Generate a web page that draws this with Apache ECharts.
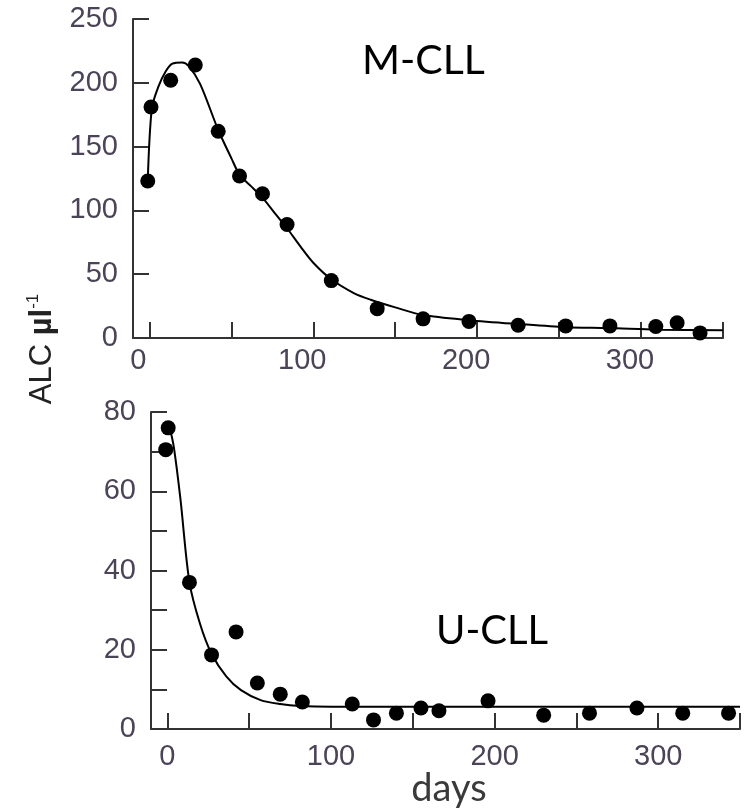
<!DOCTYPE html>
<html>
<head>
<meta charset="utf-8">
<title>ALC M-CLL / U-CLL</title>
<script src="https://cdn.jsdelivr.net/npm/echarts@6/dist/echarts.min.js"></script>
<style>
  html, body { margin: 0; padding: 0; background: #fff; }
  #chart { width: 748px; height: 811px; }
</style>
</head>
<body>
<div id="chart"></div>
<script>
// M-CLL measured ALC
const mcllDays = [-1, 1, 13, 28, 42, 55, 69, 84, 111, 139, 167, 195, 225, 254, 281, 309, 322, 336]
const mcllAlc = [123, 181, 202, 214, 162, 127, 113, 89, 45, 23, 15, 13, 10, 9.5, 9.5, 9, 12, 4]
// M-CLL fitted curve
const mcllFitDays = [-1, 1.5, 5.5, 10, 14, 20, 24, 31, 42, 50, 55, 62, 69, 77, 84, 92, 100, 111, 125, 135, 150, 167, 195, 225, 254, 280, 310, 350]
const mcllFitAlc = [123, 180, 197, 209, 215, 216, 213, 199, 163, 141, 128, 119, 110, 97, 86, 72, 59, 46, 35, 30, 24, 18, 14, 11, 8.5, 7.8, 6.5, 6]

// U-CLL measured ALC
const ucllDays = [0.5, -1, 13.5, 27, 42, 55, 69, 82.5, 113, 126, 140, 155, 166, 196, 230, 258, 287, 315, 343]
const ucllAlc = [76, 70.5, 37, 18.7, 24.5, 11.6, 8.8, 6.8, 6.3, 2.3, 4, 5.3, 4.6, 7.1, 3.5, 4, 5.3, 4, 4]
// U-CLL fitted curve
const ucllFitDays = [1.5, 4, 8, 13.5, 20, 27, 36, 45, 57, 69, 81, 100, 350]
const ucllFitAlc = [76, 71, 58, 37, 26.5, 19, 13.3, 9.8, 7.3, 6.3, 5.8, 5.6, 5.6]

// axis ticks / labels
const xTickValues = [0, 50, 100, 150, 200, 250, 300, 350]
const xLabelValues = [0, 100, 200, 300]
const mcllYLabels = [0, 50, 100, 150, 200, 250]
const ucllYTicks = [0, 10, 20, 30, 40, 50, 60, 70, 80]
const ucllYLabels = [0, 20, 40, 60, 80]

const zip = (xs, ys) => xs.map((x, i) => [x, ys[i]])

const axisColor = '#333333'
const labelColor = '#4b4356'
const tickFont = "'Liberation Sans Narrow', 'Liberation Sans', Arial, sans-serif"
const textFont = "Lato, 'Open Sans', sans-serif"

function makeXAxis(gridIndex, margin, padding) {
  return {
    type: 'value',
    gridIndex: gridIndex,
    min: -10,
    max: 350,
    axisLine: { show: true, onZero: false, lineStyle: { color: axisColor, width: 2 } },
    axisTick: {
      show: true,
      inside: true,
      length: 16,
      customValues: xTickValues,
      lineStyle: { color: axisColor, width: 2 }
    },
    axisLabel: {
      customValues: xLabelValues,
      color: labelColor,
      fontSize: 29,
      fontFamily: tickFont,
      margin: margin,
      padding: padding
    },
    splitLine: { show: false }
  }
}

function makeYAxis(gridIndex, max, ticks, labels) {
  return {
    type: 'value',
    gridIndex: gridIndex,
    min: 0,
    max: max,
    axisLine: { show: true, onZero: false, lineStyle: { color: axisColor, width: 2 } },
    axisTick: {
      show: true,
      inside: true,
      length: 16,
      customValues: ticks,
      lineStyle: { color: axisColor, width: 2 }
    },
    axisLabel: {
      customValues: labels,
      color: labelColor,
      fontSize: 29,
      fontFamily: tickFont,
      margin: 15
    },
    splitLine: { show: false }
  }
}

const chart = echarts.init(document.getElementById('chart'))
const options = {
  animation: false,
  backgroundColor: '#fff',
  grid: [
    { left: 133, top: 19, width: 590, height: 319 },
    { left: 151, top: 412, width: 589, height: 317 }
  ],
  xAxis: [
    makeXAxis(0, 8, [0, 22, 0, 0]),
    makeXAxis(1, 13, 0)
  ],
  yAxis: [
    makeYAxis(0, 250, mcllYLabels, mcllYLabels),
    makeYAxis(1, 80, ucllYTicks, ucllYLabels)
  ],
  series: [
    {
      name: 'M-CLL fit',
      type: 'line',
      xAxisIndex: 0,
      yAxisIndex: 0,
      data: zip(mcllFitDays, mcllFitAlc),
      smooth: 0.3,
      showSymbol: false,
      lineStyle: { color: '#000', width: 2 }
    },
    {
      name: 'M-CLL',
      type: 'scatter',
      xAxisIndex: 0,
      yAxisIndex: 0,
      data: zip(mcllDays, mcllAlc),
      symbol: 'circle',
      symbolSize: 15,
      itemStyle: { color: '#000', opacity: 1 }
    },
    {
      name: 'U-CLL fit',
      type: 'line',
      xAxisIndex: 1,
      yAxisIndex: 1,
      data: zip(ucllFitDays, ucllFitAlc),
      smooth: 0.3,
      showSymbol: false,
      lineStyle: { color: '#000', width: 2 }
    },
    {
      name: 'U-CLL',
      type: 'scatter',
      xAxisIndex: 1,
      yAxisIndex: 1,
      data: zip(ucllDays, ucllAlc),
      symbol: 'circle',
      symbolSize: 15,
      itemStyle: { color: '#000', opacity: 1 }
    }
  ],
  graphic: [
    {
      type: 'text',
      left: 362,
      top: 40,
      style: { text: 'M-CLL', fontSize: 41, fontFamily: textFont, fill: '#000' }
    },
    {
      type: 'text',
      left: 436,
      top: 611,
      style: { text: 'U-CLL', fontSize: 40, fontFamily: textFont, fill: '#000' }
    },
    {
      type: 'text',
      x: 449,
      y: 789,
      style: { text: 'days', fontSize: 38, fontFamily: textFont, fill: '#3a3a3a', align: 'center', verticalAlign: 'middle' }
    },
    {
      type: 'text',
      x: 42,
      y: 349,
      rotation: Math.PI / 2,
      style: {
        text: '{a|ALC }{b|µl}{c|-1}',
        align: 'center',
        verticalAlign: 'middle',
        rich: {
          a: { fontSize: 31, fontFamily: "'Liberation Sans', Arial, sans-serif", fill: '#222', lineHeight: 34 },
          b: { fontSize: 31, fontFamily: "'Liberation Sans', Arial, sans-serif", fontWeight: 'bold', fill: '#222', lineHeight: 34 },
          c: { fontSize: 17, fontFamily: "'Liberation Sans', Arial, sans-serif", fill: '#222', verticalAlign: 'top', lineHeight: 34 }
        }
      }
    }
  ]
}
chart.setOption(options)
window.addEventListener('resize', function() {
  chart.resize()
})
</script>
</body>
</html>
